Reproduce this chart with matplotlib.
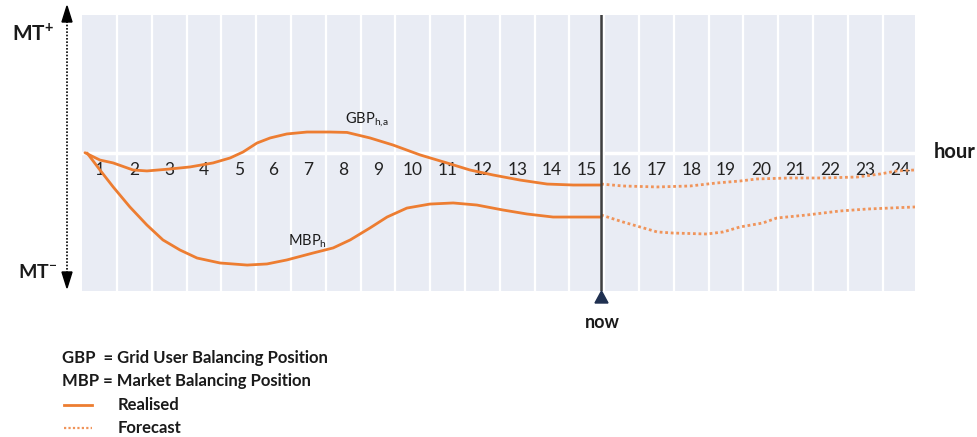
import matplotlib
matplotlib.use("Agg")
import matplotlib.pyplot as plt

plt.rcParams['font.family'] = ['Lato', 'DejaVu Sans']

# ---- data (x in hours from start, y as % of MT range: +100 = MT+, -100 = MT-) ----
hours = list(range(1, 25))
now_hour = 14.91

gbp_real_x = [0.08, 0.51, 0.89, 1.46, 1.86, 2.52, 3.10, 3.76, 4.25, 4.62, 5.02, 5.40, 5.88, 6.46, 7.12, 7.61,
              8.27, 8.93, 9.71, 10.48, 11.14, 11.80, 12.58, 13.36, 14.11, 14.91]
gbp_real_y = [0.2, -5.1, -7.2, -12.3, -13.0, -11.6, -10.1, -7.2, -3.6, 0.7, 7.2, 10.9, 13.8, 15.2, 15.2, 14.9,
              10.9, 5.8, -1.4, -7.2, -12.3, -15.9, -19.6, -22.5, -23.2, -23.2]

gbp_fc_x = [14.91, 15.54, 16.52, 17.47, 18.24, 18.90, 19.39, 20.34, 21.29, 22.27, 22.93, 23.41, 23.93]
gbp_fc_y = [-22.5, -23.9, -24.6, -23.9, -21.7, -20.3, -18.8, -18.1, -18.1, -17.4, -15.2, -13.0, -12.3]

mbp_real_x = [0.14, 0.51, 0.89, 1.37, 1.86, 2.32, 2.81, 3.30, 3.96, 4.74, 5.31, 5.88, 6.63, 7.21, 7.70, 8.27,
              8.76, 9.33, 9.99, 10.66, 11.34, 12.09, 12.78, 13.53, 14.30, 14.91]
mbp_real_y = [0.0, -12.3, -24.6, -39.1, -52.2, -63.0, -70.3, -76.1, -79.7, -81.2, -80.4, -77.5, -72.5, -68.8, -63.0, -54.3,
              -46.4, -39.9, -37.0, -36.2, -37.7, -41.3, -44.2, -46.4, -46.4, -46.4]

mbp_fc_x = [14.91, 15.54, 16.03, 16.52, 16.98, 17.95, 18.42, 18.90, 19.56, 19.96, 20.83, 21.78, 22.55, 23.93]
mbp_fc_y = [-44.9, -50.0, -53.6, -57.2, -58.0, -58.7, -57.2, -53.6, -50.7, -47.1, -44.9, -42.0, -40.6, -39.1]

legend_lines = ["GBP  = Grid User Balancing Position", "MBP = Market Balancing Position"]
legend_items = ["Realised", "Forecast"]

ORANGE = '#ED7D31'
ORANGE_FC = '#F0945A'
BG = '#E9ECF4'
TXT = '#1A1A1A'

W, H = 977, 437
fig = plt.figure(figsize=(W / 100, H / 100), dpi=100)

def fx(px):
    return px / W

def fy(py):
    return 1 - py / H

# main axes
left, right, top, bottom = 82.2, 915, 15, 291
ax = fig.add_axes([fx(left), fy(bottom), fx(right) - fx(left), fy(top) - fy(bottom)])
ax.set_facecolor(BG)
ax.set_xlim(0, 23.93)
ax.set_ylim(-100, 100)
for s in ax.spines.values():
    s.set_visible(False)
ax.set_xticks([])
ax.set_yticks([])

for k in range(1, 24):
    ax.axvline(k, color='white', lw=1.6, zorder=1)
ax.axhline(0, color='white', lw=2.5, zorder=1)

for h in hours:
    ax.text(h - 0.5, -12.3, str(h), ha='center', va='center', fontsize=12.5, color='#222222', zorder=2)

ax.plot(gbp_real_x, gbp_real_y, color=ORANGE, lw=2.0, solid_capstyle='round', solid_joinstyle='round', zorder=3)
ax.plot(mbp_real_x, mbp_real_y, color=ORANGE, lw=2.0, solid_capstyle='round', solid_joinstyle='round', zorder=3)
ax.plot(gbp_fc_x, gbp_fc_y, color=ORANGE_FC, lw=2.0, linestyle=(0, (1, 1)), zorder=3)
ax.plot(mbp_fc_x, mbp_fc_y, color=ORANGE_FC, lw=2.0, linestyle=(0, (1, 1)), zorder=3)

ax.axvline(now_hour, color='#3F3F3F', lw=1.8, zorder=4)

ax.text(7.55, 23.9, r'GBP$_{\mathregular{h{,}a}}$', fontsize=10.5, color=TXT, ha='left', va='center')
ax.text(5.92, -63.8, r'MBP$_{\mathregular{h}}$', fontsize=10.5, color=TXT, ha='left', va='center')

# overlay in pixel coordinates for decorations
ov = fig.add_axes([0, 0, 1, 1], facecolor='none')
ov.set_xlim(0, W)
ov.set_ylim(H, 0)
ov.axis('off')

# left double arrow
ov.plot([67, 67], [18, 276], color='black', lw=1.2, linestyle=(0, (1, 1)))
ov.fill([62, 72, 67], [22, 22, 6], color='black')
ov.fill([62, 72, 67], [272, 272, 288], color='black')
ov.text(12, 34, r'MT$^{\mathregular{+}}$', fontsize=15, fontweight='bold', color=TXT, va='center', ha='left')
ov.text(18, 272, r'MT$^{\mathregular{-}}$', fontsize=14, fontweight='bold', color=TXT, va='center', ha='left')

# now marker
ov.fill([595, 608, 601.5], [303, 303, 291], color='#1F3050')
ov.text(602, 322, 'now', fontsize=13, fontweight='bold', color=TXT, ha='center', va='center')

ov.text(934, 152, 'hour', fontsize=14.5, fontweight='bold', color=TXT, ha='left', va='center')

# legend
ov.text(62, 358, legend_lines[0], fontsize=12, fontweight='bold', color=TXT, ha='left', va='center')
ov.text(62, 381, legend_lines[1], fontsize=12, fontweight='bold', color=TXT, ha='left', va='center')
ov.plot([64, 92], [405, 405], color=ORANGE, lw=2.0)
ov.text(118, 405, legend_items[0], fontsize=12, fontweight='bold', color=TXT, ha='left', va='center')
ov.plot([64, 92], [428, 428], color=ORANGE_FC, lw=1.6, linestyle=(0, (1, 1)))
ov.text(118, 428, legend_items[1], fontsize=12, fontweight='bold', color=TXT, ha='left', va='center')

fig.savefig('out.png', dpi=100)
